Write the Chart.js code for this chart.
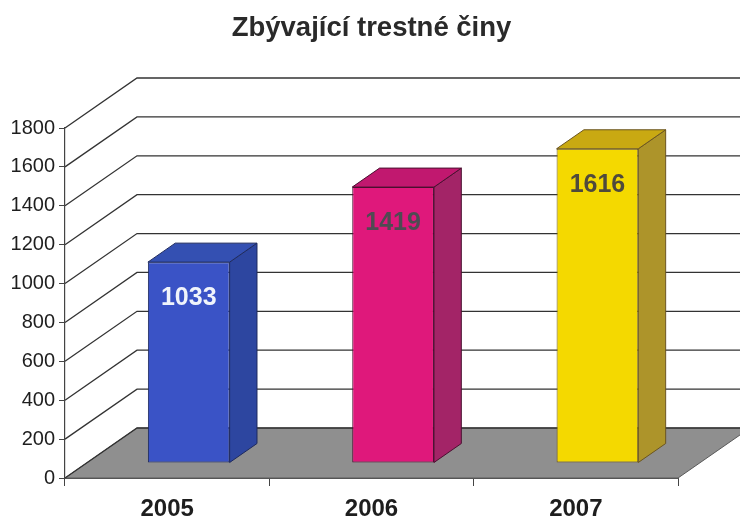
<!DOCTYPE html>
<html><head><meta charset="utf-8">
<script src="https://cdn.jsdelivr.net/npm/chart.js@4.4.0/dist/chart.umd.min.js"></script>
<style>html,body{margin:0;padding:0;background:#fff}#wrap{width:740px;height:522px}</style>
</head><body><div id="wrap"><canvas id="c" width="740" height="522"></canvas></div>
<script>
const chartTitle = 'Zbývající trestné činy';
const categories = ['2005', '2006', '2007'];
const values = [1033, 1419, 1616];
const yTicks = [0, 200, 400, 600, 800, 1000, 1200, 1400, 1600, 1800];

const frontColors = ['#3a53c6', '#df187b', '#f4d900'];
const topColors = ['#3450b2', '#c1186f', '#c9a912'];
const sideColors = ['#2d46a0', '#a32467', '#ad942a'];
const edgeColors = ['#1e2a5e', '#4a1030', '#6b5520'];
const labelColors = ['#f0f4fb', '#4e4b52', '#4f4a3c'];

const FONT = '"Liberation Sans", Arial, sans-serif';
const DX = 72, DY = -50;          // depth of the floor / back wall
const BAR_OFF = 0.3, BAR_DEPTH = 0.38;

const backdrop = {
  id: 'backdrop',
  beforeDraw(chart) {
    const { ctx, chartArea: a, scales: { y } } = chart;
    const y0 = y.getPixelForValue(0);
    ctx.save();
    ctx.beginPath();
    ctx.moveTo(a.left, y0);
    ctx.lineTo(a.right, y0);
    ctx.lineTo(a.right + DX, y0 + DY);
    ctx.lineTo(a.left + DX, y0 + DY);
    ctx.closePath();
    ctx.fillStyle = '#8f8f8f';
    ctx.fill();
    ctx.strokeStyle = '#5a5a5a';
    ctx.lineWidth = 1;
    ctx.stroke();
    ctx.strokeStyle = '#333';
    ctx.lineWidth = 1.3;
    yTicks.forEach(v => {
      const py = y.getPixelForValue(v);
      ctx.beginPath();
      ctx.moveTo(a.left, py);
      ctx.lineTo(a.left + DX, py + DY);
      ctx.lineTo(chart.width + 5, py + DY);
      ctx.stroke();
    });
    ctx.restore();
  }
};

const bars3d = {
  id: 'bars3d',
  beforeDatasetDraw(chart) {
    const ctx = chart.ctx;
    ctx.save();
    ctx.translate(DX * BAR_OFF, DY * BAR_OFF);
  },
  afterDatasetDraw(chart, args) {
    const ctx = chart.ctx;
    const dx = DX * BAR_DEPTH, dy = DY * BAR_DEPTH;
    args.meta.data.forEach((bar, i) => {
      const { x, y, base, width } = bar.getProps(['x', 'y', 'base', 'width'], true);
      const l = x - width / 2, r = x + width / 2;
      ctx.lineWidth = 1;
      ctx.strokeStyle = edgeColors[i];
      ctx.beginPath();
      ctx.moveTo(r, y); ctx.lineTo(r + dx, y + dy); ctx.lineTo(r + dx, base + dy); ctx.lineTo(r, base);
      ctx.closePath();
      ctx.fillStyle = sideColors[i]; ctx.fill(); ctx.stroke();
      ctx.beginPath();
      ctx.moveTo(l, y); ctx.lineTo(l + dx, y + dy); ctx.lineTo(r + dx, y + dy); ctx.lineTo(r, y);
      ctx.closePath();
      ctx.fillStyle = topColors[i]; ctx.fill(); ctx.stroke();
      ctx.fillStyle = labelColors[i];
      ctx.font = 'bold 25px ' + FONT;
      ctx.textAlign = 'center';
      ctx.textBaseline = 'middle';
      ctx.fillText(String(values[i]), x, y + 36);
    });
    ctx.restore();
  }
};

new Chart(document.getElementById('c'), {
  type: 'bar',
  data: {
    labels: categories,
    datasets: [{
      data: values,
      backgroundColor: frontColors,
      borderColor: edgeColors,
      borderWidth: 1,
      borderSkipped: false,
      categoryPercentage: 1,
      barPercentage: 0.4,
      clip: false
    }]
  },
  options: {
    responsive: false,
    devicePixelRatio: 1,
    animation: false,
    layout: { padding: { left: 0, right: 62, top: 0, bottom: 0 } },
    plugins: {
      legend: { display: false },
      tooltip: { enabled: false },
      title: {
        display: true,
        fullSize: false,
        text: chartTitle,
        color: '#2a2a2a',
        font: { family: FONT, size: 27.5, weight: 'bold' },
        padding: { top: 12, bottom: 83 }
      }
    },
    scales: {
      x: {
        grid: { color: 'transparent', tickColor: '#444', tickLength: 8, offset: true },
        border: { display: true, color: '#555', width: 1 },
        ticks: { color: '#1e1e1e', padding: 9, font: { family: FONT, size: 24, weight: 'bold' } },
        afterFit(s) { s.height = 44; }
      },
      y: {
        min: 0, max: 1800,
        afterBuildTicks(s) { s.ticks = yTicks.map(v => ({ value: v })); },
        grid: { color: 'transparent', tickColor: '#444', tickLength: 6 },
        border: { display: true, color: '#444', width: 1.2 },
        ticks: {
          color: '#1e1e1e', padding: 4, font: { family: FONT, size: 20 },
          callback: v => String(v)
        },
        afterFit(s) { s.width = 65; }
      }
    }
  },
  plugins: [backdrop, bars3d]
});
</script>
</body></html>
